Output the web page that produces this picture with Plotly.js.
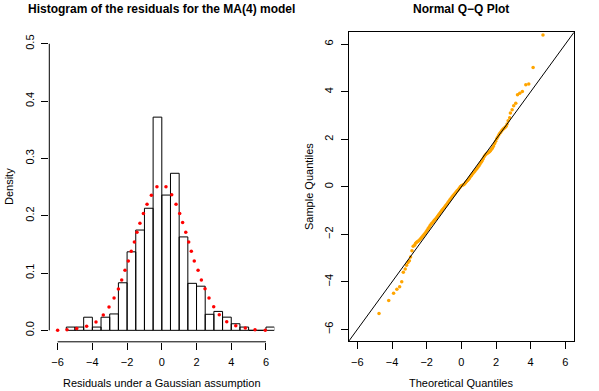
<!DOCTYPE html>
<html>
<head>
<meta charset="utf-8">
<script src="https://cdn.plot.ly/plotly-3.0.1.min.js"></script>
<style>
  body { margin: 0; background: #fff; }
  #graphDiv { width: 599px; height: 391px; }
</style>
</head>
<body>
<div id="graphDiv"></div>
<script>
// Histogram of MA(4) residuals (left) and normal Q-Q plot (right)

// histogram: bin breaks and densities
var histBreaks = [-5.5, -5, -4.5, -4, -3.5, -3, -2.5, -2, -1.5, -1, -0.5, 0, 0.5,
                  1, 1.5, 2, 2.5, 3, 3.5, 4, 4.5, 5, 5.5, 6, 6.5];
var histDensity = [0.0057, 0.0057, 0.0229, 0.0057, 0.0229, 0.0286, 0.083, 0.137,
                   0.175, 0.213, 0.372, 0.236, 0.274, 0.163, 0.082, 0.077,
                   0.028, 0.033, 0.023, 0.0115, 0.0057, 0, 0, 0.0057];

// gaussian density points (red)
var normX = [-6.0, -5.46, -4.90, -4.33, -3.79, -3.37, -3.04, -2.75, -2.50, -2.31,
             -2.12, -1.93, -1.76, -1.58, -1.43, -1.26, -1.06, -0.85, -0.60, -0.28,
             0.24, 0.57, 0.82, 1.03, 1.20, 1.38, 1.55, 1.70, 1.87, 2.09,
             2.28, 2.49, 2.72, 2.99, 3.31, 3.74, 4.26, 4.81, 5.37, 5.96];
var normY = [0.0, 0.001, 0.003, 0.007, 0.0145, 0.0267, 0.0407, 0.0564, 0.072, 0.088,
             0.1047, 0.121, 0.138, 0.154, 0.171, 0.187, 0.204, 0.220, 0.2356, 0.2507,
             0.2507, 0.2367, 0.220, 0.204, 0.188, 0.171, 0.154, 0.138, 0.121, 0.1047,
             0.088, 0.0725, 0.0564, 0.041, 0.027, 0.015, 0.008, 0.004, 0.001, 0.0];

// Q-Q points
var qqTheo = [-4.75, -4.19, -3.91, -3.72, -3.56, -3.44, -3.35, -3.24, -3.16, -3.08,
              -3.00, -2.93, -2.85, -2.78, -2.70,
              -2.64, -2.58, -2.52, -2.46, -2.40, -2.34, -2.28, -2.22, -2.16, -2.10,
              -2.04, -1.98, -1.92, -1.86, -1.80, -1.74, -1.68, -1.62, -1.56, -1.50,
              -1.44, -1.38, -1.32, -1.26, -1.20, -1.14, -1.08, -1.02, -0.96, -0.90,
              -0.84, -0.78, -0.72, -0.66, -0.60, -0.54, -0.48, -0.42, -0.36, -0.30,
              -0.24, -0.18, -0.12, -0.06, 0.00, 0.06, 0.12, 0.18, 0.24, 0.30,
              0.36, 0.42, 0.48, 0.54, 0.60, 0.66, 0.72, 0.78, 0.84, 0.90,
              0.96, 1.02, 1.08, 1.14, 1.20, 1.26, 1.32, 1.38, 1.44, 1.50,
              1.56, 1.62, 1.68, 1.74, 1.80, 1.86, 1.92, 1.98, 2.04, 2.10,
              2.16, 2.22, 2.28, 2.34, 2.40, 2.46, 2.52, 2.58, 2.64, 2.70,
              2.79, 2.83, 2.93, 3.02, 3.14, 3.24, 3.37, 3.52, 3.72, 3.89, 4.14, 4.71];
var qqSample = [-5.33, -4.78, -4.48, -4.31, -4.20, -3.99, -3.60, -3.46, -3.30, -3.19,
                -3.11, -2.95, -2.69, -2.50, -2.46,
                -2.38, -2.33, -2.30, -2.27, -2.23, -2.18, -2.12, -2.07, -2.02, -1.96,
                -1.90, -1.84, -1.77, -1.70, -1.63, -1.57, -1.52, -1.47, -1.41, -1.36,
                -1.31, -1.25, -1.19, -1.13, -1.07, -1.01, -0.96, -0.90, -0.85, -0.79,
                -0.73, -0.67, -0.61, -0.55, -0.49, -0.43, -0.38, -0.32, -0.27, -0.22,
                -0.17, -0.12, -0.06, 0.00, 0.04, 0.07, 0.09, 0.12, 0.17, 0.22,
                0.27, 0.32, 0.38, 0.44, 0.50, 0.56, 0.61, 0.66, 0.72, 0.77,
                0.83, 0.89, 0.96, 1.03, 1.10, 1.18, 1.27, 1.34, 1.38, 1.41,
                1.44, 1.47, 1.52, 1.58, 1.64, 1.72, 1.82, 1.92, 2.02, 2.10,
                2.18, 2.25, 2.31, 2.37, 2.42, 2.46, 2.50, 2.55, 2.64, 2.78,
                2.90, 3.10, 3.24, 3.41, 3.52, 3.87, 3.94, 4.01, 4.29, 4.32, 5.02, 6.39];

var ticksX = [-6, -4, -2, 0, 2, 4, 6];
var ticksDensity = [0, 0.1, 0.2, 0.3, 0.4, 0.5];
var ticksQQ = [-6, -4, -2, 0, 2, 4, 6];

// bar centres from breaks
var histMid = [];
for (var i = 0; i < histDensity.length; i++) {
    histMid.push((histBreaks[i] + histBreaks[i + 1]) / 2);
}

var W = 599, H = 391;
var px = function (x) { return x / W; };
var py = function (y) { return 1 - y / H; };

var fontFam = "Liberation Sans, Arial, Helvetica, sans-serif";

var bars = {
    x: histMid,
    y: histDensity,
    width: 0.5,
    type: 'bar',
    marker: { color: 'rgba(255,255,255,0)', line: { color: '#000', width: 1 } },
    xaxis: 'x', yaxis: 'y',
    hoverinfo: 'none'
};

var normPts = {
    x: normX,
    y: normY,
    mode: 'markers',
    type: 'scatter',
    marker: { color: '#ff0000', size: 3.5 },
    xaxis: 'x', yaxis: 'y',
    cliponaxis: false
};

var qqPts = {
    x: qqTheo,
    y: qqSample,
    mode: 'markers',
    type: 'scatter',
    marker: { color: '#ffa500', size: 3.5 },
    xaxis: 'x2', yaxis: 'y2'
};

var data = [bars, normPts, qqPts];

var axisCommon = {
    showgrid: false,
    zeroline: false,
    ticks: 'outside',
    ticklen: 7,
    tickcolor: '#000',
    tickwidth: 1,
    ticklabelstandoff: 3,
    tickfont: { family: fontFam, size: 11, color: '#000' }
};

var layout = {
    width: W,
    height: H,
    margin: { l: 0, r: 0, t: 0, b: 0 },
    paper_bgcolor: '#fff',
    plot_bgcolor: '#fff',
    showlegend: false,
    bargap: 0,
    font: { family: fontFam, color: '#000' },
    xaxis: Object.assign({}, axisCommon, {
        domain: [px(49.3), px(274.3)],
        range: [-6.48, 6.48],
        tickvals: ticksX,
        showline: false,
        anchor: 'y'
    }),
    yaxis: Object.assign({}, axisCommon, {
        domain: [py(341.8), py(32.3)],
        range: [-0.02, 0.52],
        tickvals: ticksDensity,
        tickformat: '.1f',
        tickangle: -90,
        showline: false,
        anchor: 'x'
    }),
    xaxis2: Object.assign({}, axisCommon, {
        domain: [px(348.7), px(574)],
        range: [-6.5, 6.5],
        tickvals: ticksQQ,
        showline: true,
        mirror: true,
        linecolor: '#000',
        linewidth: 1,
        anchor: 'y2'
    }),
    yaxis2: Object.assign({}, axisCommon, {
        domain: [py(341.3), py(32.3)],
        range: [-6.5, 6.5],
        tickvals: ticksQQ,
        tickangle: -90,
        showline: true,
        mirror: true,
        linecolor: '#000',
        linewidth: 1,
        anchor: 'x2'
    }),
    shapes: [
        // R style detached axis lines on the histogram
        { type: 'line', xref: 'x', yref: 'paper', x0: -6, x1: 6, y0: py(341.8), y1: py(341.8),
          line: { color: '#000', width: 1 } },
        { type: 'line', xref: 'paper', yref: 'y', x0: px(49.3), x1: px(49.3), y0: 0, y1: 0.5,
          line: { color: '#000', width: 1 } },
        // reference line y = x
        { type: 'line', xref: 'x2', yref: 'y2', x0: -6.5, y0: -6.5, x1: 6.5, y1: 6.5,
          line: { color: '#000', width: 1 } }
    ],
    annotations: [
        { text: '<b>Histogram of the residuals for the MA(4) model</b>', x: px(162), y: py(9),
          font: { size: 12 } },
        { text: '<b>Normal Q\u2212Q Plot</b>', x: px(461), y: py(9), font: { size: 12 } },
        { text: 'Residuals under a Gaussian assumption', x: px(162), y: py(383), font: { size: 11 } },
        { text: 'Theoretical Quantiles', x: px(461), y: py(383), font: { size: 11 } },
        { text: 'Density', x: px(9), y: py(187), textangle: -90, font: { size: 11 } },
        { text: 'Sample Quantiles', x: px(309), y: py(187), textangle: -90, font: { size: 11 } }
    ].map(function (a) {
        return Object.assign({ xref: 'paper', yref: 'paper', showarrow: false,
                               xanchor: 'center', yanchor: 'middle' }, a);
    })
};

var graphDiv = document.getElementById('graphDiv');
Plotly.newPlot(graphDiv, data, layout, { staticPlot: true, displayModeBar: false });
</script>
</body>
</html>
